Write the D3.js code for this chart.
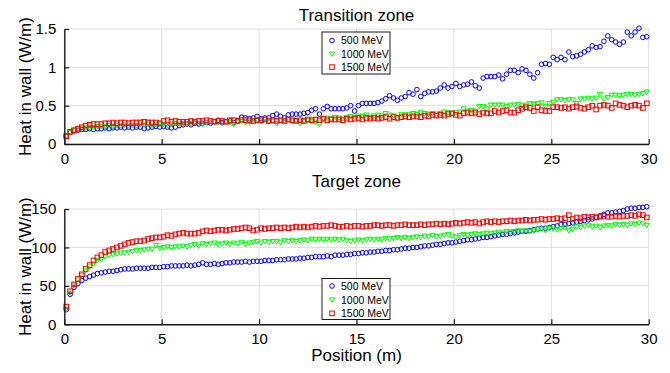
<!DOCTYPE html>
<html><head><meta charset="utf-8">
<script src="https://cdn.jsdelivr.net/npm/d3@7"></script>
<style>
body{margin:0;background:#fff;}
svg{display:block;font-family:"Liberation Sans",Arial,Helvetica,sans-serif;}
</style></head>
<body><svg id="c" width="670" height="373"></svg>
<script>
// Positions along the wall (m), one sample every 0.2 m
const positions = d3.range(150).map(i => +(0.1 + 0.2 * i).toFixed(1));
const seriesNames = ["500 MeV", "1000 MeV", "1500 MeV"];
const xTicks = [0, 5, 10, 15, 20, 25, 30];
const topYTicks = [0, 0.5, 1, 1.5];
const botYTicks = [0, 50, 100, 150];

// Transition zone (W/m)
const transition500 = [
0.10,0.15,0.17,0.18,0.19,0.19,0.20,0.19,0.20,0.20,
0.21,0.20,0.21,0.21,0.22,0.21,0.22,0.21,0.22,0.22,
0.20,0.21,0.22,0.23,0.22,0.23,0.22,0.21,0.22,0.24,
0.25,0.26,0.25,0.27,0.26,0.27,0.28,0.27,0.29,0.31,
0.28,0.29,0.30,0.28,0.30,0.35,0.34,0.33,0.34,0.36,
0.33,0.34,0.34,0.37,0.39,0.36,0.34,0.38,0.39,0.39,
0.39,0.40,0.41,0.44,0.46,0.39,0.46,0.49,0.46,0.46,
0.46,0.46,0.47,0.50,0.43,0.50,0.53,0.53,0.53,0.53,
0.54,0.56,0.59,0.63,0.60,0.57,0.60,0.62,0.67,0.65,
0.71,0.62,0.66,0.68,0.68,0.69,0.73,0.77,0.73,0.75,
0.79,0.75,0.77,0.78,0.81,0.76,0.73,0.86,0.88,0.88,
0.88,0.90,0.85,0.91,0.96,0.96,0.93,0.98,0.96,0.91,
0.86,0.93,1.04,1.05,1.04,1.13,1.10,1.13,1.10,1.20,
1.14,1.15,1.17,1.20,1.23,1.28,1.26,1.27,1.34,1.41,
1.36,1.33,1.30,1.33,1.46,1.41,1.46,1.51,1.39,1.40];
const transition1000 = [
0.11,0.15,0.18,0.20,0.21,0.21,0.22,0.22,0.23,0.23,
0.23,0.24,0.23,0.24,0.24,0.25,0.24,0.25,0.24,0.25,
0.25,0.26,0.25,0.25,0.26,0.26,0.25,0.26,0.27,0.26,
0.27,0.26,0.27,0.28,0.27,0.26,0.28,0.27,0.29,0.28,
0.27,0.29,0.28,0.26,0.29,0.30,0.28,0.29,0.31,0.32,
0.30,0.32,0.29,0.30,0.27,0.31,0.30,0.32,0.29,0.31,
0.27,0.30,0.31,0.30,0.28,0.26,0.33,0.34,0.33,0.35,
0.34,0.33,0.35,0.36,0.35,0.37,0.36,0.38,0.35,0.37,
0.38,0.37,0.40,0.38,0.37,0.33,0.39,0.38,0.39,0.40,
0.39,0.41,0.40,0.39,0.40,0.38,0.40,0.42,0.41,0.40,
0.41,0.42,0.46,0.43,0.44,0.43,0.49,0.49,0.46,0.51,
0.51,0.51,0.51,0.49,0.51,0.51,0.52,0.50,0.51,0.53,
0.52,0.53,0.54,0.49,0.53,0.55,0.58,0.58,0.57,0.58,
0.58,0.53,0.59,0.59,0.60,0.59,0.60,0.65,0.59,0.61,
0.64,0.64,0.63,0.64,0.65,0.65,0.64,0.65,0.66,0.68];
const transition1500 = [
0.10,0.16,0.18,0.20,0.22,0.24,0.25,0.26,0.26,0.26,
0.27,0.27,0.28,0.27,0.28,0.28,0.27,0.28,0.28,0.28,
0.29,0.28,0.28,0.28,0.27,0.30,0.31,0.29,0.30,0.29,
0.29,0.29,0.30,0.29,0.30,0.30,0.31,0.30,0.29,0.30,
0.30,0.29,0.31,0.31,0.30,0.32,0.31,0.31,0.30,0.31,
0.31,0.32,0.30,0.31,0.30,0.31,0.30,0.32,0.31,0.30,
0.31,0.30,0.32,0.31,0.32,0.31,0.33,0.31,0.32,0.32,
0.32,0.31,0.33,0.32,0.33,0.34,0.32,0.34,0.33,0.34,
0.33,0.34,0.35,0.33,0.35,0.34,0.35,0.36,0.35,0.36,
0.36,0.35,0.37,0.36,0.38,0.37,0.38,0.37,0.39,0.40,
0.38,0.37,0.40,0.41,0.40,0.41,0.39,0.41,0.40,0.40,
0.43,0.41,0.43,0.44,0.41,0.41,0.44,0.46,0.48,0.47,
0.43,0.48,0.44,0.43,0.43,0.48,0.48,0.47,0.48,0.46,
0.48,0.49,0.47,0.46,0.48,0.50,0.45,0.50,0.51,0.50,
0.47,0.53,0.51,0.50,0.48,0.50,0.51,0.50,0.47,0.53];

// Target zone (W/m)
const target500 = [
19,39,48,53,57,60,62,64,66,67,
68,69,69,70,71,72,72,72,73,73,
73,73,74,74,74,75,75,76,76,76,
76,77,76,77,78,80,78,78,79,78,
79,80,80,81,81,81,82,81,82,82,
82,83,83,83,84,84,84,85,85,85,
86,86,87,87,88,88,88,89,88,90,
90,90,91,91,92,92,93,93,94,94,
95,95,96,96,97,97,98,99,99,100,
100,101,102,102,103,104,104,105,106,106,
107,108,109,110,110,111,112,113,113,114,
115,116,117,117,118,119,120,121,121,122,
123,124,125,125,126,127,128,130,130,131,
132,133,134,135,136,137,139,141,143,145,
145,146,147,148,150,151,151,152,152,153];
const target1000 = [
20,41,51,58,64,70,75,79,83,85,
88,90,91,92,93,93,94,95,96,96,
97,98,98,103,99,100,101,100,101,101,
102,101,103,104,102,105,104,105,106,104,
105,106,104,106,105,107,104,106,107,108,
106,108,107,108,108,107,109,108,109,108,
109,110,109,111,110,111,110,111,110,111,
110,111,109,108,109,110,109,110,111,110,
111,110,112,111,112,113,112,113,112,113,
114,113,115,114,116,114,115,116,117,115,
113,116,117,116,117,118,117,118,119,118,
119,120,119,121,120,121,122,121,122,121,
122,123,124,122,125,124,123,125,126,122,
124,127,126,128,129,127,128,126,128,129,
128,130,129,130,129,131,130,132,131,129];
const target1500 = [
23,43,52,59,65,72,77,83,87,90,
94,96,98,100,102,104,106,107,108,108,
109,111,112,113,113,114,116,115,117,118,
119,118,118,118,119,121,122,121,122,123,
123,122,123,124,124,125,126,125,122,123,
125,124,125,125,126,125,126,125,126,127,
126,127,126,127,128,127,128,128,129,128,
127,127,128,127,128,128,127,128,128,129,
129,128,129,129,128,129,129,130,129,129,
129,130,129,130,130,131,130,131,130,131,
132,131,132,133,132,133,131,133,134,133,
134,133,134,134,135,134,135,135,136,135,
136,136,137,136,137,137,138,137,138,142,
137,139,138,140,139,140,139,140,141,140,
140,141,140,141,141,142,141,143,142,139];

const colors = ["#0000ff", "#00ff00", "#ff0000"];
const shapes = ["circle", "triangle", "square"];

const svg = d3.select("#c");
const xScale = d3.scaleLinear().domain([0, 30]).range([64.3, 648.7]);
const ink = "#1a1a1a";

function marker(g, shape, color, cx, cy) {
  if (shape === "circle") {
    g.append("circle").attr("cx", cx).attr("cy", cy).attr("r", 2.3)
      .attr("fill", "none").attr("stroke", color).attr("stroke-width", 1);
  } else if (shape === "square") {
    g.append("rect").attr("x", cx - 2.3).attr("y", cy - 2.3).attr("width", 4.6).attr("height", 4.6)
      .attr("fill", "none").attr("stroke", color).attr("stroke-width", 1);
  } else {
    g.append("path").attr("d", `M${cx - 2.7},${cy - 1.8}L${cx + 2.7},${cy - 1.8}L${cx},${cy + 2.6}Z`)
      .attr("fill", "none").attr("stroke", color).attr("stroke-width", 1);
  }
}

function panel(opts) {
  const y = d3.scaleLinear().domain(opts.yDomain).range(opts.yRange);
  const g = svg.append("g");
  // grid
  g.append("g").selectAll("line.v").data(xTicks).join("line")
    .attr("x1", d => xScale(d)).attr("x2", d => xScale(d))
    .attr("y1", y.range()[0]).attr("y2", y.range()[1])
    .attr("stroke", "#dedede").attr("stroke-width", 1);
  g.append("g").selectAll("line.h").data(opts.yTicks).join("line")
    .attr("x1", xScale.range()[0]).attr("x2", xScale.range()[1])
    .attr("y1", d => y(d)).attr("y2", d => y(d))
    .attr("stroke", "#dedede").attr("stroke-width", 1);
  // data
  opts.series.forEach((vals, si) => {
    const sg = g.append("g");
    vals.forEach((v, i) => marker(sg, shapes[si], colors[si], xScale(positions[i]), y(v)));
  });
  // axes
  const xAxis = d3.axisBottom(xScale).tickValues(xTicks).tickSizeInner(-5).tickSizeOuter(0).tickPadding(9)
    .tickFormat(d3.format("d"));
  const xg = g.append("g").attr("transform", `translate(0,${y.range()[0]})`).call(xAxis);
  const yAxis = d3.axisLeft(y).tickValues(opts.yTicks).tickSizeInner(-5).tickSizeOuter(0).tickPadding(8)
    .tickFormat(opts.fmt);
  const yg = g.append("g").attr("transform", `translate(${xScale.range()[0]},0)`).call(yAxis);
  [xg, yg].forEach(a => {
    a.select(".domain").attr("stroke", ink).attr("stroke-width", 1.4);
    a.selectAll(".tick line").attr("stroke", ink).attr("stroke-width", 1.2);
    a.selectAll(".tick text").attr("fill", "#000").style("font-size", "15px")
      .style("font-family", '"Liberation Sans",Arial,sans-serif');
  });
  // title
  g.append("text").attr("x", (xScale.range()[0] + xScale.range()[1]) / 2).attr("y", opts.titleY)
    .attr("text-anchor", "middle").style("font-size", "17px").text(opts.title);
  // y label
  const cy = (y.range()[0] + y.range()[1]) / 2;
  g.append("text").attr("transform", `translate(31,${cy}) rotate(-90)`)
    .attr("text-anchor", "middle").style("font-size", "17px").text("Heat in wall (W/m)");
  // legend
  const lg = g.append("g");
  lg.append("rect").attr("x", 322).attr("y", opts.legY).attr("width", 68).attr("height", opts.legH)
    .attr("fill", "#fff").attr("stroke", ink).attr("stroke-width", 1);
  seriesNames.forEach((n, i) => {
    const yy = opts.legY + opts.legFirst + i * opts.legStep;
    marker(lg, shapes[i], colors[i], 332, yy);
    lg.append("text").attr("x", 341).attr("y", yy + 3.8).style("font-size", "10.5px").text(n);
  });
}

panel({
  yDomain: [0, 1.5], yRange: [144, 29], yTicks: topYTicks,
  fmt: d => d === 0 ? "0" : (Number.isInteger(d) ? d3.format("d")(d) : String(d)),
  series: [transition500, transition1000, transition1500],
  title: "Transition zone", titleY: 21,
  legY: 32, legH: 42, legFirst: 8.5, legStep: 13.3
});
panel({
  yDomain: [0, 150], yRange: [324.3, 209], yTicks: botYTicks,
  fmt: d3.format("d"),
  series: [target500, target1000, target1500],
  title: "Target zone", titleY: 187,
  legY: 278.5, legH: 41, legFirst: 7.5, legStep: 13.7
});
svg.append("text").attr("x", 356.5).attr("y", 361).attr("text-anchor", "middle")
  .style("font-size", "17px").text("Position (m)");
</script></body></html>
